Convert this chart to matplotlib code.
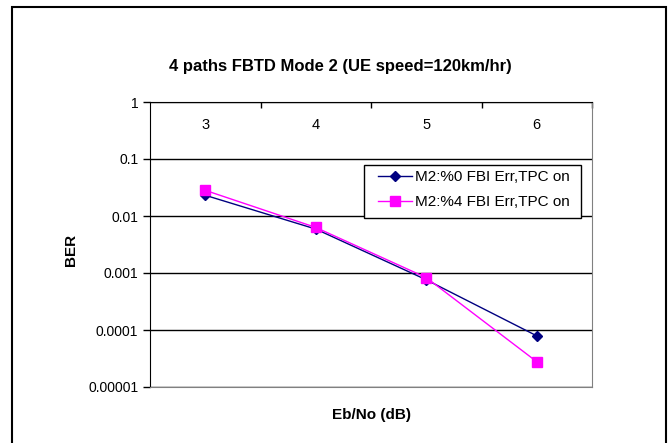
import matplotlib
matplotlib.use("Agg")
import matplotlib.pyplot as plt
from matplotlib.patches import Rectangle

# Eb/No categories and BER of both series
ebno = ["3", "4", "5", "6"]
ber_fbi0 = [0.0231, 0.0059, 0.00076, 0.000079]
ber_fbi4 = [0.0282, 0.0063, 0.00083, 0.0000278]
yticks = [1, 0.1, 0.01, 0.001, 0.0001, 0.00001]
ytick_labels = ["1", "0.1", "0.01", "0.001", "0.0001", "0.00001"]

plt.rcParams['font.family'] = ['Liberation Sans', 'DejaVu Sans']

W, H = 671, 443
fig = plt.figure(figsize=(W / 100, H / 100), dpi=100)
ax = fig.add_axes([150 / W, 1 - 387 / H, (592 - 150) / W, (387 - 102) / H])

# outer chart border (no bottom edge visible)
fig.patches.append(Rectangle((12 / W, -0.01), (666 - 12) / W, (443 - 7) / H + 0.01,
                             transform=fig.transFigure, fill=False,
                             edgecolor='black', linewidth=1.5))

x = [0.5, 1.5, 2.5, 3.5]
ax.plot(x, ber_fbi0, color='#000080', marker='D', markersize=5, linewidth=1,
        label='M2:%0 FBI Err,TPC on', zorder=3)
ax.plot(x, ber_fbi4, color='#FF00FF', marker='s', markersize=6.5, linewidth=1,
        label='M2:%4 FBI Err,TPC on', zorder=3)

ax.set_yscale('log')
ax.set_ylim(1e-5, 1)
ax.set_xlim(0, 4)
ax.set_yticks(yticks)
ax.set_yticklabels(ytick_labels, fontsize=10)
ax.minorticks_off()
ax.yaxis.grid(True, color='black', linewidth=1)
ax.tick_params(axis='y', direction='out', length=5, width=1)

# category axis at the top, labels just below the y=1 line
ax.set_xticks([1, 2, 3, 4])
ax.set_xticklabels([])
ax.xaxis.set_ticks_position('top')
ax.tick_params(axis='x', direction='in', length=4, width=1)
for xi, lab in zip(x, ebno):
    ax.text(xi, 0.40, lab, ha='center', va='center', fontsize=10.5)

for side in ['bottom', 'right']:
    ax.spines[side].set_color('#808080')
ax.spines['left'].set_color('black')
ax.spines['top'].set_color('black')

fig.text(340 / W, 1 - 66 / H, '4 paths FBTD Mode 2 (UE speed=120km/hr)',
         ha='center', va='center', fontsize=12, fontweight='bold')
fig.text(71 / W, 1 - 250 / H, 'BER', ha='center', va='center', rotation=90,
         fontsize=11, fontweight='bold')
fig.text(371 / W, 1 - 415 / H, 'Eb/No (dB)', ha='center', va='center',
         fontsize=11, fontweight='bold')

# legend box drawn by hand, entries without frame
ax.add_patch(Rectangle((364 / W, 1 - 218 / H), (581 - 364) / W, (218 - 165) / H,
                       transform=fig.transFigure, facecolor='white',
                       edgecolor='black', linewidth=1, zorder=4, clip_on=False))
leg = ax.legend(loc='upper left', bbox_to_anchor=(378 / W, 1 - 170 / H),
                bbox_transform=fig.transFigure, fontsize=11, frameon=False,
                borderpad=0, borderaxespad=0, labelspacing=0.75,
                handlelength=2.2, handletextpad=0.2)
leg.set_zorder(5)

fig.savefig('out.png', dpi=100)
